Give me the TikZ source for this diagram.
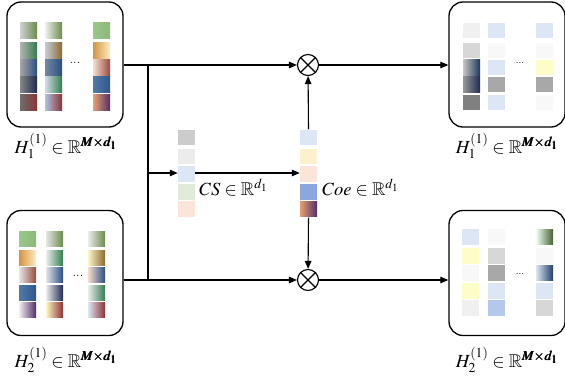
\documentclass[tikz,border=0pt]{standalone}
\usepackage{amsmath,amssymb}
\usepackage{mathptmx}
\usetikzlibrary{arrows.meta}
\newcommand\gsq[4]{\fill[left color=#3, right color=#4] (#1,#2) rectangle ++(17,15.5);}
\newcommand\psq[3]{\fill[#3] (#1,#2) rectangle ++(17,15.5);}
\definecolor{olg}{RGB}{105,140,75}
\definecolor{dgr}{RGB}{50,125,78}
\definecolor{nvy}{RGB}{30,42,82}
\definecolor{dbl}{RGB}{42,78,130}
\definecolor{drd}{RGB}{140,50,50}
\definecolor{brn}{RGB}{140,105,48}
\definecolor{org}{RGB}{214,148,66}
\definecolor{crm}{RGB}{252,236,198}
\definecolor{pch}{RGB}{246,221,206}
\definecolor{rbr}{RGB}{150,75,62}
\definecolor{prp}{RGB}{82,45,108}
\definecolor{mbl}{RGB}{80,122,170}
\definecolor{lbl}{RGB}{220,230,245}
\definecolor{lgr}{RGB}{240,240,240}
\definecolor{mgr}{RGB}{215,215,215}
\definecolor{dgy}{RGB}{168,168,168}
\definecolor{ggy}{RGB}{128,128,128}
\definecolor{wht}{RGB}{248,248,248}
\definecolor{lyl}{RGB}{253,253,200}
\definecolor{sbl}{RGB}{180,200,235}
\definecolor{csa}{RGB}{204,204,204}
\definecolor{csb}{RGB}{236,236,236}
\definecolor{csd}{RGB}{224,236,216}
\definecolor{cse}{RGB}{251,228,216}
\definecolor{coeb}{RGB}{253,240,204}
\definecolor{coed}{RGB}{138,168,221}
\definecolor{coeo}{RGB}{232,160,112}
\tikzset{
  box/.style={draw, line width=1.3pt, rounded corners=14pt, minimum width=116pt, minimum height=125pt, inner sep=0pt},
  ln/.style={line width=1.1pt},
  arr/.style={ln, -{Triangle[length=8pt,width=6.5pt]}},
  otim/.style={circle, draw, line width=1.1pt, minimum size=21pt, inner sep=0pt},
  lab/.style={font=\fontsize{18.5}{22}\selectfont, inner sep=0pt},
  colnode/.style={minimum width=17pt, minimum height=88pt, inner sep=0pt},
  dots/.style={font=\fontsize{13}{15}\selectfont\bfseries, inner sep=0pt},
  ldots/.style={font=\fontsize{10}{12}\selectfont, inner sep=0pt}
}
\begin{document}
\begin{tikzpicture}[x=1pt,y=-1pt]
\useasboundingbox (0,0) rectangle (565,377);
% boxes
\node[box] (b1) at (65,64.5) {};
\node[box] (b2) at (65,273) {};
\node[box] (o1) at (507,64.5) {};
\node[box] (o2) at (507,273) {};
% top-left squares
\gsq{20}{23}{black!15!white!90!gray}{olg}
\gsq{20}{43}{gray!60}{dgr}
\gsq{20}{60}{gray!70}{dbl}
\gsq{20}{77}{gray!95}{nvy}
\gsq{20}{95}{black!57}{drd}
\gsq{45}{23}{gray!12}{olg}
\gsq{45}{43}{lbl!70!gray!90}{brn}
\gsq{45}{60}{mbl!60!gray!90}{dbl}
\gsq{45}{77}{lbl!90!gray}{dgr}
\gsq{45}{95}{sbl!90!gray}{drd}
\gsq{93}{23}{olg!80!green!60!white}{olg!90!green!70!white}
\gsq{93}{43}{org}{crm}
\gsq{93}{60}{pch}{rbr}
\gsq{93}{77}{mbl}{dbl!80!mbl}
\gsq{93}{95}{coeo}{prp}
\node[dots] (d1) at (75,63) {...};
% bottom-left squares
\gsq{19}{231}{olg!80!green!60!white}{olg!90!green!70!white}
\gsq{19}{250}{org}{crm}
\gsq{19}{267}{gray!20}{rbr}
\gsq{19}{285}{mbl}{dbl!80!mbl}
\gsq{19}{302}{gray!12}{prp}
\gsq{46}{231}{gray!20}{olg}
\gsq{46}{250}{gray!15}{dgr}
\gsq{46}{267}{lbl!60!gray!40}{dbl}
\gsq{46}{285}{gray!15}{nvy}
\gsq{46}{302}{crm!80!yellow!60}{drd}
\gsq{88}{231}{gray!15}{olg}
\gsq{88}{250}{crm!80!yellow!60}{brn}
\gsq{88}{267}{pch}{dbl}
\gsq{88}{285}{gray!15}{dgr}
\gsq{88}{302}{lbl}{drd}
\node[dots] (d2) at (78,276) {...};
% top-right squares
\psq{463}{23}{lgr}
\psq{463}{43}{mgr}
\gsq{463}{60}{gray!45}{dbl!70!black}
\gsq{463}{77}{gray!80}{nvy}
\psq{463}{95}{ggy}
\psq{488}{23}{lbl}
\psq{488}{43}{wht}
\psq{488}{60}{lbl}
\psq{488}{77}{dgy}
\psq{488}{95}{lbl}
\psq{536}{23}{lbl}
\psq{536}{43}{wht}
\psq{536}{60}{lyl}
\psq{536}{77}{dgy}
\psq{536}{95}{wht}
\node[ldots] (d3) at (520,63) {...};
% bottom-right squares
\psq{462}{229}{lbl}
\psq{462}{248}{lyl}
\psq{462}{265}{wht}
\psq{462}{283}{lyl}
\psq{462}{300}{lgr}
\psq{488}{229}{wht}
\psq{488}{248}{mgr}
\psq{488}{265}{dgy}
\psq{488}{283}{lbl}
\psq{488}{300}{sbl}
\gsq{536}{229}{green!6}{olg!70!black}
\psq{536}{248}{wht}
\gsq{536}{265}{lbl}{dbl!80!black}
\psq{536}{283}{lbl}
\psq{536}{300}{mgr}
\node[ldots] (d4) at (520,274) {...};
% CS column
\node[colnode] (cs) at (186.5,173.5) {};
\psq{178}{130}{csa}
\psq{178}{149}{csb}
\psq{178}{166}{lbl}
\psq{178}{184}{csd}
\psq{178}{201}{cse}
% Coe column
\node[colnode] (coe) at (308.5,173.5) {};
\psq{300}{130}{lbl}
\psq{300}{149}{coeb}
\psq{300}{166}{cse}
\psq{300}{184}{coed}
\gsq{300}{201}{coeo}{prp}
% labels
\node[lab] (l1) at (66,146) {$H_1^{(1)}\in\mathbb{R}^{\pmb{M\times d_1}}$};
\node[lab] (l2) at (66,360) {$H_2^{(1)}\in\mathbb{R}^{\pmb{M\times d_1}}$};
\node[lab] (l3) at (507,146) {$H_1^{(1)}\in\mathbb{R}^{\pmb{M\times d_1}}$};
\node[lab] (l4) at (507,360) {$H_2^{(1)}\in\mathbb{R}^{\pmb{M\times d_1}}$};
\node[lab,anchor=west] (lcs) at (199,188) {$CS\in\mathbb{R}^{d_1}$};
\node[lab,anchor=west] (lcoe) at (322,188) {$Coe\in\mathbb{R}^{d_1}$};
% multiply nodes
\node[otim] (m1) at (308,65) {};
\node[otim] (m2) at (308,280) {};
\foreach \m in {m1,m2}{
  \draw[ln] (\m.north west) -- (\m.south east);
  \draw[ln] (\m.north east) -- (\m.south west);
}
% junction coordinates
\coordinate (j1) at (148,65);
\coordinate (j2) at (148,280);
\coordinate (j3) at (148,173);
% connectors
\draw[ln] (b1.east |- j1) -- (j1);
\draw[ln] (b2.east |- j2) -- (j2);
\draw[ln] (j1) -- (j2);
\draw[arr] (j1) -- (m1);
\draw[arr] (j2) -- (m2);
\draw[arr] (j3) -- (cs.west |- j3);
\draw[arr] (cs.east |- j3) -- (coe.west |- j3);
\draw[arr] (coe.north) -- (m1);
\draw[arr] (coe.south) -- (m2);
\draw[arr] (m1) -- (o1.west |- m1);
\draw[arr] (m2) -- (o2.west |- m2);
\end{tikzpicture}
\end{document}
